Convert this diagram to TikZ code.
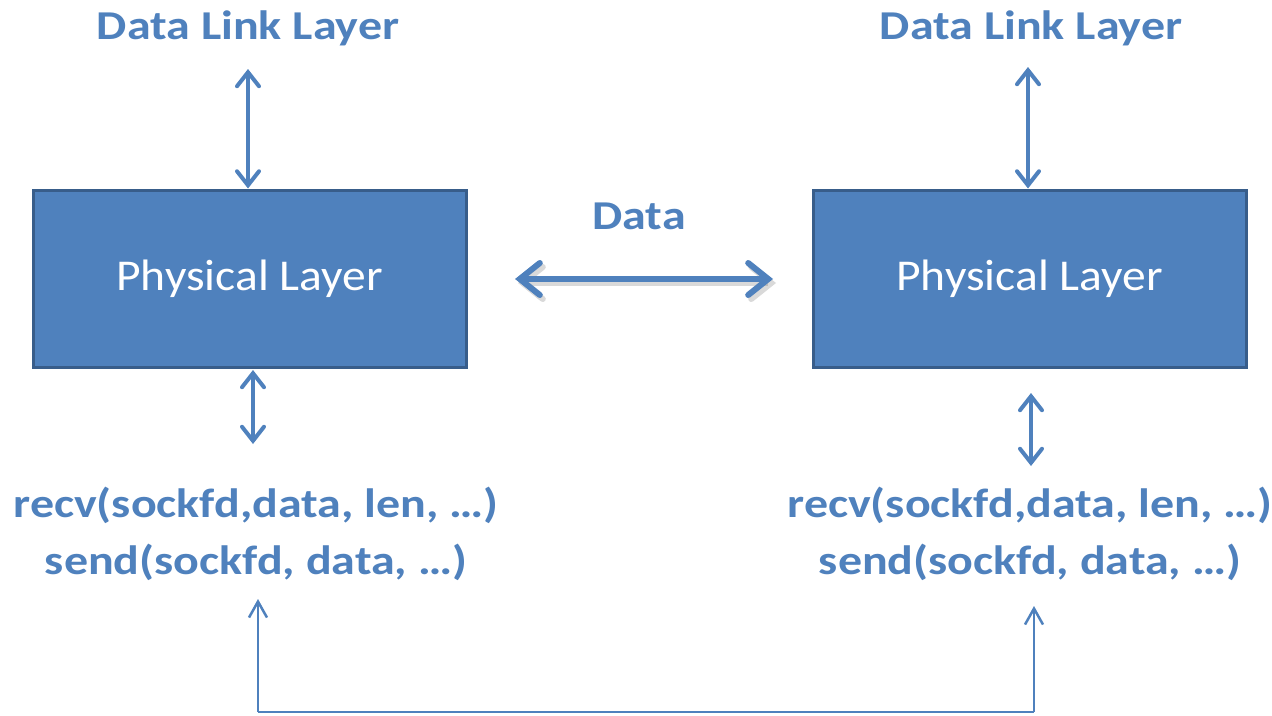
\documentclass[tikz,border=0pt]{standalone}
\usepackage{fontspec}
\setmainfont{Carlito}
\newfontfamily\widefont{Carlito}[FakeStretch=1.17]
\newfontfamily\boxfont{Carlito}[FakeStretch=1.08]
\usetikzlibrary{arrows.meta}
\definecolor{accent}{HTML}{4F81BD}
\definecolor{accentdark}{HTML}{385D8A}
\tikzset{
  layerbox/.style={draw=accentdark, line width=3pt, fill=accent, minimum width=433pt, minimum height=177pt, inner sep=0pt, text=white, font=\boxfont\fontsize{44}{52}\selectfont},
  label/.style={text=accent, font=\widefont\bfseries\fontsize{41}{50}\selectfont, inner sep=0pt},
  calltext/.style={text=accent, font=\widefont\bfseries\fontsize{41}{57}\selectfont, align=center, inner sep=0pt},
  dbl/.style={draw=accent, line width=4pt, {Straight Barb[length=14pt,width=22pt,line cap=round]}-{Straight Barb[length=14pt,width=22pt,line cap=round]}},
  wide/.style={line width=6pt, {Straight Barb[length=20pt,width=32pt,line cap=round]}-{Straight Barb[length=20pt,width=32pt,line cap=round]}},
  thin/.style={draw=accent, line width=2.5pt, -{Straight Barb[length=16pt,width=18pt]}}
}
\begin{document}
\begin{tikzpicture}[x=1pt,y=-1pt]
\useasboundingbox (0,0) rectangle (1272,715);

% the two physical layer boxes
\node[layerbox] (physL) at (249.5,278.5) {Physical Layer};
\node[layerbox] (physR) at (1029.5,278.5) {Physical Layer};

% data link layer labels
\node[label] (dllL) at (248,28) {Data Link Layer};
\node[label] (dllR) at (1031,28) {Data Link Layer};

% socket calls
\node[calltext] (callL) at (256,534) {recv(sockfd,data, len, …)\\send(sockfd, data, …)};
\node[calltext] (callR) at (1030,534) {recv(sockfd,data, len, …)\\send(sockfd, data, …)};

% link between the physical layers
\node[label] (dataLbl) at (639,216) {Data};
\coordinate (dA) at (515,279);
\coordinate (dB) at (773,279);
\coordinate (dAs) at (518,283);
\coordinate (dBs) at (776,283);
\draw[wide, draw=black!60, opacity=0.25] (dAs) -- (dBs);
\draw[wide, draw=accent] (dA) -- (dB);

% vertical links
\coordinate (tL) at (248,69);
\coordinate (tR) at (1028,67);
\draw[dbl] (tL) -- (physL.north -| tL);
\draw[dbl] (tR) -- (physR.north -| tR);
\coordinate (bL1) at (253,370);
\coordinate (bL2) at (253,444);
\coordinate (bR1) at (1031,393);
\coordinate (bR2) at (1031,466);
\draw[dbl] (bL1) -- (bL2);
\draw[dbl] (bR1) -- (bR2);

% loop between the two socket interfaces
\coordinate (lA) at (258,599);
\coordinate (lB) at (1034,606);
\draw[thin] (258,712) -- (lA);
\draw[thin] (1034,712) -- (lB);
\draw[draw=accent, line width=2.5pt] (258,712) -- (1034,712);
\end{tikzpicture}
\end{document}
